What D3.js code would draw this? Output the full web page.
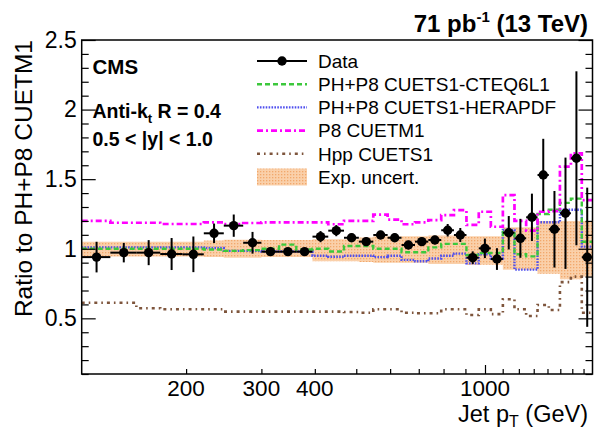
<!DOCTYPE html>
<html>
<head>
<meta charset="utf-8">
<script src="https://cdn.jsdelivr.net/npm/d3@7"></script>
<style>
  body { margin: 0; background: #fff; }
  text { font-family: "Liberation Sans", Arial, Helvetica, sans-serif; }
</style>
</head>
<body>
<div id="chart"></div>
<script>
const binEdges = [114, 133, 153, 174, 196, 220, 245, 272, 300, 330, 362, 395, 430, 468, 507, 548, 592, 638, 686, 737, 790, 846, 905, 967, 1032, 1101, 1172, 1248, 1327, 1410, 1497, 1588, 1684, 1784];

const dataRatio = [0.94, 0.972, 0.972, 0.962, 0.96, 1.111, 1.166, 1.043, 0.979, 0.979, 0.979, 1.087, 1.13, 1.079, 1.051, 1.099, 1.079, 1.027, 1.051, 1.063, 1.133, 1.099, 0.936, 1.003, 0.926, 1.115, 1.075, 1.226, 1.53, 1.14, 1.255, 1.65, 0.939];
const dataErr = [0.11, 0.07, 0.09, 0.115, 0.128, 0.07, 0.08, 0.078, 0.03, 0.02, 0.02, 0.04, 0.04, 0.03, 0.03, 0.03, 0.03, 0.03, 0.03, 0.03, 0.045, 0.05, 0.045, 0.07, 0.078, 0.12, 0.14, 0.17, 0.26, 0.275, 0.4, 0.625, 0.5];

const cteq = [1.0, 1.0, 1.0, 1.0, 1.0, 0.995, 0.985, 0.99, 1.0, 1.03, 0.995, 1.0, 0.98, 1.02, 1.02, 1.0, 1.0, 0.975, 0.975, 1.01, 1.035, 1.035, 0.955, 0.97, 0.97, 1.12, 0.96, 0.945, 1.25, 1.28, 1.33, 1.36, 1.05];
const herapdf = [1.01, 1.01, 1.01, 1.01, 1.01, 1.005, 0.985, 0.985, 0.98, 0.98, 0.98, 0.95, 0.943, 0.95, 0.95, 0.94, 0.95, 0.92, 0.91, 0.93, 0.95, 0.965, 0.895, 0.96, 0.93, 1.135, 0.85, 0.85, 1.19, 1.19, 1.28, 1.28, 1.015];
const p8cuetm1 = [1.2, 1.187, 1.187, 1.178, 1.178, 1.19, 1.178, 1.185, 1.19, 1.19, 1.19, 1.19, 1.176, 1.2, 1.2, 1.245, 1.21, 1.176, 1.19, 1.205, 1.242, 1.278, 1.171, 1.266, 1.158, 1.386, 1.2, 1.13, 1.266, 1.27, 1.59, 1.686, 1.35];
const hpp = [0.612, 0.612, 0.572, 0.565, 0.565, 0.565, 0.548, 0.548, 0.548, 0.548, 0.548, 0.548, 0.548, 0.545, 0.54, 0.565, 0.565, 0.54, 0.536, 0.536, 0.565, 0.565, 0.524, 0.565, 0.53, 0.637, 0.565, 0.517, 0.596, 0.56, 0.76, 0.8, 0.54];

const bandLo = [0.945, 0.945, 0.945, 0.945, 0.945, 0.94, 0.935, 0.935, 0.94, 0.94, 0.94, 0.91, 0.91, 0.91, 0.905, 0.9, 0.9, 0.9, 0.9, 0.89, 0.89, 0.89, 0.885, 0.885, 0.885, 0.85, 0.85, 0.85, 0.82, 0.82, 0.78, 0.78, 0.8];
const bandHi = [1.05, 1.05, 1.05, 1.05, 1.05, 1.06, 1.065, 1.065, 1.063, 1.063, 1.063, 1.068, 1.068, 1.068, 1.08, 1.09, 1.09, 1.09, 1.09, 1.095, 1.095, 1.095, 1.09, 1.09, 1.09, 1.155, 1.155, 1.155, 1.2, 1.2, 1.2, 1.2, 1.2];

const yMajor = [0.5, 1, 1.5, 2, 2.5];
const xLabels = [200, 300, 400, 1000];
const xMinor = [200, 300, 400, 500, 600, 700, 800, 900, 1100, 1200, 1300, 1400, 1500, 1600, 1700];

const legendItems = [
    { label: "Data", kind: "data" },
    { label: "PH+P8 CUETS1-CTEQ6L1", kind: "line", color: "#3cc83c", dash: "5,3", width: 2.4 },
    { label: "PH+P8 CUETS1-HERAPDF", kind: "line", color: "#4f4fee", dash: "1.6,1.3", width: 2.4 },
    { label: "P8 CUETM1", kind: "line", color: "#ff00ff", dash: "6,3,2,3", width: 2.7 },
    { label: "Hpp CUETS1", kind: "line", color: "#7e553c", dash: "3,4,1.6,4", width: 2.6 }
    , { label: "Exp. uncert.", kind: "band" }
];

const width = 597, height = 429;
const frame = { left: 81.7, right: 592.5, top: 40, bottom: 374 };

const svg = d3.select("#chart")
    .append("svg")
    .attr("width", width)
    .attr("height", height);

const pattern = svg.append("defs").append("pattern")
    .attr("id", "bandFill")
    .attr("width", 3)
    .attr("height", 3)
    .attr("patternUnits", "userSpaceOnUse");
pattern.append("rect").attr("width", 3).attr("height", 3).attr("fill", "#fad0aa");
pattern.append("rect").attr("width", 1.3).attr("height", 1.3).attr("fill", "#f2a86c");

const x = d3.scaleLog().domain([114, 1784]).range([frame.left, frame.right]);
const y = d3.scaleLinear().domain([0.1, 2.5]).range([frame.bottom, frame.top]);

const plot = svg.append("g");

// uncertainty band
const bandData = binEdges.map((e, i) => ({ e: e, lo: bandLo[Math.min(i, 32)], hi: bandHi[Math.min(i, 32)] }));
plot.append("path")
    .datum(bandData)
    .attr("fill", "url(#bandFill)")
    .attr("d", d3.area()
        .x(d => x(d.e))
        .y0(d => y(d.lo))
        .y1(d => y(d.hi))
        .curve(d3.curveStepAfter));

// model histograms
const stepLine = d3.line()
    .x(d => x(d[0]))
    .y(d => y(d[1]))
    .curve(d3.curveStepAfter);

const models = [
    { vals: hpp, item: legendItems[4] },
    { vals: herapdf, item: legendItems[2] },
    { vals: cteq, item: legendItems[1] },
    { vals: p8cuetm1, item: legendItems[3] }
];

models.forEach(m => {
    const pts = binEdges.map((e, i) => [e, m.vals[Math.min(i, m.vals.length - 1)]]);
    plot.append("path")
        .datum(pts)
        .attr("fill", "none")
        .attr("stroke", m.item.color)
        .attr("stroke-width", m.item.width)
        .attr("stroke-dasharray", m.item.dash)
        .attr("d", stepLine);
});

// data points
const points = dataRatio.map((v, i) => ({
    lo: binEdges[i], hi: binEdges[i + 1], c: (binEdges[i] + binEdges[i + 1]) / 2, v: v, err: dataErr[i]
}));

const pts = plot.append("g").selectAll("g")
    .data(points)
    .enter()
    .append("g");

pts.append("line")
    .attr("x1", d => x(d.lo))
    .attr("x2", d => x(d.hi))
    .attr("y1", d => y(d.v))
    .attr("y2", d => y(d.v))
    .attr("stroke", "#000")
    .attr("stroke-width", 2);

pts.append("line")
    .attr("x1", d => x(d.c))
    .attr("x2", d => x(d.c))
    .attr("y1", d => y(Math.max(d.v - d.err, 0.1)))
    .attr("y2", d => y(Math.min(d.v + d.err, 2.5)))
    .attr("stroke", "#000")
    .attr("stroke-width", 2);

pts.append("circle")
    .attr("cx", d => x(d.c))
    .attr("cy", d => y(d.v))
    .attr("r", 4.7)
    .attr("fill", "#000");

// axes, ticks drawn inside the frame
const yMinor = d3.range(0.1, 2.5, 0.1).filter(v => !yMajor.some(m => Math.abs(m - v) < 1e-6));

svg.append("g")
    .attr("transform", `translate(${frame.left},0)`)
    .call(d3.axisLeft(y).tickValues(yMinor).tickSize(-7).tickFormat(""))
    .call(g => g.select(".domain").remove());

svg.append("g")
    .attr("transform", `translate(${frame.left},0)`)
    .call(d3.axisLeft(y).tickValues(yMajor).tickSize(-14).tickPadding(5).tickFormat(d3.format("")))
    .call(g => g.select(".domain").remove())
    .call(g => g.selectAll("text").attr("font-size", 23).attr("font-family", "Liberation Sans, Arial, sans-serif"));

svg.append("g")
    .attr("transform", `translate(${frame.right},0)`)
    .call(d3.axisRight(y).tickValues(yMinor).tickSize(-7).tickFormat(""))
    .call(g => g.select(".domain").remove());

svg.append("g")
    .attr("transform", `translate(${frame.right},0)`)
    .call(d3.axisRight(y).tickValues(yMajor).tickSize(-14).tickFormat(""))
    .call(g => g.select(".domain").remove());

svg.append("g")
    .attr("transform", `translate(0,${frame.bottom})`)
    .call(d3.axisBottom(x).tickValues(xMinor).tickSize(-5).tickFormat(""))
    .call(g => g.select(".domain").remove());

svg.append("g")
    .attr("transform", `translate(0,${frame.bottom})`)
    .call(d3.axisBottom(x).tickValues([1000]).tickSize(-9).tickFormat(""))
    .call(g => g.select(".domain").remove());

svg.append("g")
    .selectAll("text")
    .data(xLabels)
    .enter()
    .append("text")
    .attr("x", d => x(d))
    .attr("y", 396)
    .attr("text-anchor", "middle")
    .attr("font-size", 22.5)
    .text(d => d);

svg.selectAll(".tick line").attr("stroke-width", 1.2);

svg.append("rect")
    .attr("x", frame.left)
    .attr("y", frame.top)
    .attr("width", frame.right - frame.left)
    .attr("height", frame.bottom - frame.top)
    .attr("fill", "none")
    .attr("stroke", "#000")
    .attr("stroke-width", 1.5);

// titles
svg.append("text")
    .attr("transform", `translate(32,${frame.top}) rotate(-90)`)
    .attr("text-anchor", "end")
    .attr("font-size", 24.5)
    .text("Ratio to PH+P8 CUETM1");

const xTitle = svg.append("text")
    .attr("x", 588)
    .attr("y", 422)
    .attr("text-anchor", "end")
    .attr("font-size", 23.5);
xTitle.append("tspan").text("Jet p");
xTitle.append("tspan").attr("font-size", 16).attr("dy", 5).text("T");
xTitle.append("tspan").attr("dy", -5).text(" (GeV)");

const header = svg.append("text")
    .attr("x", 588)
    .attr("y", 32)
    .attr("text-anchor", "end")
    .attr("font-size", 24)
    .attr("font-weight", "bold");
header.append("tspan").text("71 pb");
header.append("tspan").attr("font-size", 15).attr("dy", -10).text("-1");
header.append("tspan").attr("dy", 10).text(" (13 TeV)");

svg.append("text")
    .attr("x", 92.5)
    .attr("y", 74)
    .attr("font-size", 20.5)
    .attr("font-weight", "bold")
    .text("CMS");

const jetText = svg.append("text")
    .attr("x", 92.5)
    .attr("y", 118)
    .attr("font-size", 19.5)
    .attr("font-weight", "bold");
jetText.append("tspan").text("Anti-k");
jetText.append("tspan").attr("font-size", 13).attr("dy", 5).text("t");
jetText.append("tspan").attr("dy", -5).text(" R = 0.4");

svg.append("text")
    .attr("x", 92.5)
    .attr("y", 145.5)
    .attr("font-size", 19.5)
    .attr("font-weight", "bold")
    .text("0.5 < |y| < 1.0");

// legend
const legend = svg.append("g")
    .selectAll("g")
    .data(legendItems)
    .enter()
    .append("g")
    .attr("transform", (d, i) => `translate(257,${61 + i * 23.2})`);

legend.each(function(d) {
    const g = d3.select(this);
    if (d.kind === "data") {
        g.append("line").attr("x1", 0).attr("x2", 50).attr("stroke", "#000").attr("stroke-width", 2);
        g.append("circle").attr("cx", 25).attr("r", 4.7).attr("fill", "#000");
    } else if (d.kind === "line") {
        g.append("line").attr("x1", 0).attr("x2", 50)
            .attr("stroke", d.color)
            .attr("stroke-width", d.width)
            .attr("stroke-dasharray", d.dash);
    } else {
        g.append("rect").attr("x", 0).attr("y", -8.5).attr("width", 50).attr("height", 17).attr("fill", "url(#bandFill)");
    }
    g.append("text")
        .attr("x", 61)
        .attr("y", 6.8)
        .attr("font-size", 19)
        .text(d.label);
});
</script>
</body>
</html>
